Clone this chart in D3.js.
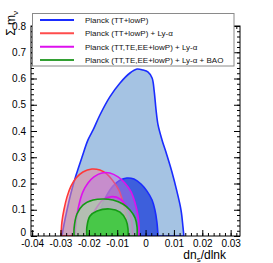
<!DOCTYPE html>
<html><head><meta charset="utf-8">
<script src="https://cdn.jsdelivr.net/npm/d3@7"></script>
<style>body{margin:0;background:#fff}svg{display:block}text{font-family:"Liberation Sans",Arial,sans-serif}</style>
</head><body>
<svg id="c" width="273" height="263"></svg>
<script>
// ---- data ----
const xTicks = [-0.04,-0.03,-0.02,-0.01,0,0.01,0.02,0.03];
const xTickLabels = ["-0.04","-0.03","-0.02","-0.01","0","0.01","0.02","0.03"];
const yTicks = [0,0.1,0.2,0.3,0.4,0.5,0.6,0.7,0.8];
const yTickLabels = ["0","0.1","0.2","0.3","0.4","0.5","0.6","0.7","0.8"];
const legendLabels = ["Planck (TT+lowP)","Planck (TT+lowP) + Ly-\u03b1","Planck (TT,TE,EE+lowP) + Ly-\u03b1","Planck (TT,TE,EE+lowP) + Ly-\u03b1 + BAO"];

const blueOuter = [[-0.0295,0],[-0.0288,0.042],[-0.0277,0.099],[-0.0263,0.164],[-0.0245,0.232],[-0.0224,0.301],[-0.0203,0.366],[-0.0185,0.404],[-0.0161,0.461],[-0.0126,0.530],[-0.0090,0.583],[-0.0055,0.621],[-0.0030,0.636],[-0.0009,0.632],[0.0008,0.625],[0.0023,0.602],[0.0030,0.556],[0.0037,0.480],[0.0044,0.423],[0.0058,0.366],[0.0075,0.309],[0.0093,0.244],[0.0111,0.168],[0.0125,0.099],[0.0132,0.034],[0.0135,0]];
const blueInner = [[-0.0189,0],[-0.0178,0.046],[-0.0161,0.099],[-0.0140,0.149],[-0.0115,0.190],[-0.0090,0.213],[-0.0066,0.221],[-0.0041,0.217],[-0.0016,0.198],[0.0005,0.171],[0.0023,0.137],[0.0033,0.099],[0.0040,0.053],[0.0044,0]];
const redOuter = [[-0.0298,0],[-0.0295,0.053],[-0.0288,0.099],[-0.0277,0.149],[-0.0263,0.190],[-0.0245,0.221],[-0.0221,0.244],[-0.0189,0.255],[-0.0161,0.251],[-0.0136,0.236],[-0.0115,0.210],[-0.0094,0.175],[-0.0080,0.130],[-0.0069,0.080],[-0.0066,0.038],[-0.0066,0]];
const magentaOuter = [[-0.0249,0],[-0.0245,0.053],[-0.0235,0.118],[-0.0221,0.168],[-0.0203,0.202],[-0.0182,0.225],[-0.0154,0.240],[-0.0126,0.240],[-0.0097,0.225],[-0.0073,0.202],[-0.0051,0.168],[-0.0037,0.126],[-0.0027,0.080],[-0.0023,0.038],[-0.0023,0]];
const magentaInner = [[-0.0203,0],[-0.0196,0.053],[-0.0178,0.099],[-0.0150,0.138],[-0.0118,0.150],[-0.0090,0.141],[-0.0066,0.110],[-0.0051,0.069],[-0.0045,0]];
const greenOuter = [[-0.0252,0],[-0.0252,0.030],[-0.0242,0.084],[-0.0221,0.118],[-0.0185,0.137],[-0.0150,0.141],[-0.0115,0.137],[-0.0080,0.122],[-0.0055,0.099],[-0.0037,0.069],[-0.0030,0.034],[-0.0030,0]];
const greenInner = [[-0.0207,0],[-0.0207,0.034],[-0.0196,0.076],[-0.0171,0.095],[-0.0126,0.103],[-0.0090,0.091],[-0.0069,0.061],[-0.0062,0.027],[-0.0062,0]];

// ---- layout ----
const L=31,R=240,T=26,B=236;
const svg=d3.select("#c");
const x=d3.scaleLinear().domain([-0.0404,0.0333]).range([L,R]);
const y=d3.scaleLinear().domain([0,0.8]).range([B,T]);

svg.append("clipPath").attr("id","clip").append("rect").attr("x",L).attr("y",T).attr("width",R-L).attr("height",B-T);
const g=svg.append("g").attr("clip-path","url(#clip)");
const line=d3.line().x(d=>x(d[0])).y(d=>y(d[1])).curve(d3.curveCatmullRom.alpha(0.5));
const contours=[
 {d:blueOuter,fill:"#a5c3e3",op:1,stroke:"#1a2cff"},
 {d:blueInner,fill:"#3d5fdc",op:1,stroke:"#1a2cff"},
 {d:redOuter,fill:"#ec8a9c",op:0.55,stroke:"#ff3838"},
 {d:magentaOuter,fill:"#c070e0",op:0.45,stroke:"#dd10ee"},
 {d:magentaInner,fill:"#b060d8",op:0.4,stroke:"#dd10ee"},
 {d:greenOuter,fill:"#a6e0a0",op:0.6,stroke:"#149a14"},
 {d:greenInner,fill:"#48c848",op:1,stroke:"#149a14"}
];
contours.forEach(c=>{
  g.append("path").attr("d",line(c.d)+"Z").attr("fill",c.fill).attr("fill-opacity",c.op)
   .attr("stroke",c.stroke).attr("stroke-width",1.6);
});

// ---- axes ----
const fmtX=d=>xTickLabels[xTicks.indexOf(d)];
const fmtY=d=>yTickLabels[yTicks.indexOf(d)];
const xMinor=d3.range(-0.040,0.0334,0.002);
const yMinor=d3.range(0,0.801,0.02);
function axisStyle(sel){sel.select(".domain").remove();sel.selectAll("line").attr("stroke","#000");sel.selectAll("text").attr("font-size",10).attr("fill","#000").attr("font-family","Liberation Sans, Arial, sans-serif");}
svg.append("g").attr("transform",`translate(0,${B})`).call(d3.axisBottom(x).tickValues(xMinor).tickSize(-3).tickFormat("")).call(axisStyle);
svg.append("g").attr("transform",`translate(0,${B})`).call(d3.axisBottom(x).tickValues(xTicks).tickSize(-6).tickPadding(4).tickFormat(fmtX)).call(axisStyle);
svg.append("g").attr("transform",`translate(0,${T})`).call(d3.axisTop(x).tickValues(xMinor).tickSize(-3).tickFormat("")).call(axisStyle);
svg.append("g").attr("transform",`translate(0,${T})`).call(d3.axisTop(x).tickValues(xTicks).tickSize(-6).tickFormat("")).call(axisStyle);
svg.append("g").attr("transform",`translate(${L},0)`).call(d3.axisLeft(y).tickValues(yMinor).tickSize(-3).tickFormat("")).call(axisStyle);
const yAx=svg.append("g").attr("transform",`translate(${L},0)`).call(d3.axisLeft(y).tickValues(yTicks).tickSize(-6).tickPadding(5).tickFormat(fmtY)).call(axisStyle);
yAx.selectAll(".tick").filter(d=>d===0).select("text").attr("y",-4);
svg.append("g").attr("transform",`translate(${R},0)`).call(d3.axisRight(y).tickValues(yMinor).tickSize(-3).tickFormat("")).call(axisStyle);
svg.append("g").attr("transform",`translate(${R},0)`).call(d3.axisRight(y).tickValues(yTicks).tickSize(-6).tickFormat("")).call(axisStyle);
svg.append("rect").attr("x",L).attr("y",T).attr("width",R-L).attr("height",B-T).attr("fill","none").attr("stroke","#000").attr("stroke-width",1);

// axis titles
const xt=svg.append("text").attr("x",226).attr("y",259).attr("text-anchor","end").attr("font-size",12);
xt.append("tspan").text("dn");
xt.append("tspan").attr("font-size",8).attr("dy",3).text("s");
xt.append("tspan").attr("dy",-3).text("/dlnk");
const yt=svg.append("text").attr("transform","translate(15,11) rotate(-90)").attr("text-anchor","end").attr("font-size",12);
yt.append("tspan").text("\u03a3 m");
yt.append("tspan").attr("font-size",8).attr("dy",3).text("\u03bd");

// legend
const colors=["#1a2cff","#ff4c4c","#dd10ee","#33a033"];
svg.append("rect").attr("x",32.5).attr("y",13.5).attr("width",201.5).attr("height",52.5).attr("fill","#fff").attr("stroke","#8a8a8a").attr("stroke-width",1);
legendLabels.forEach((t,i)=>{
  const yy=20+i*13.35;
  svg.append("line").attr("x1",40).attr("x2",74).attr("y1",yy).attr("y2",yy).attr("stroke",colors[i]).attr("stroke-width",2);
  svg.append("text").attr("x",85).attr("y",yy+3).attr("font-size",8).attr("fill","#111").text(t);
});
</script>
</body></html>
